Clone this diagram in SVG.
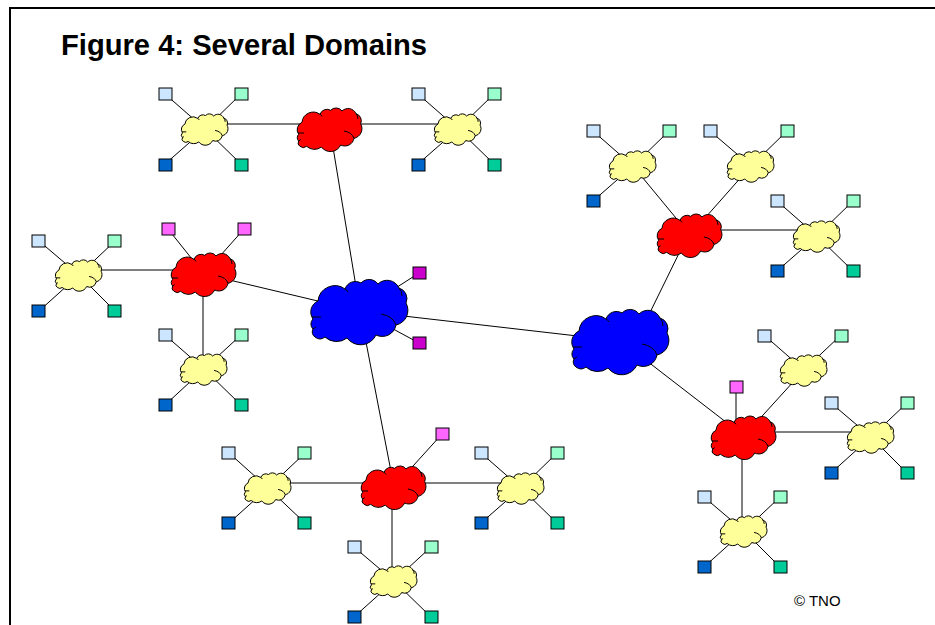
<svg xmlns="http://www.w3.org/2000/svg" width="935" height="625" viewBox="0 0 935 625">
<style>
.link{stroke:#000;stroke-width:1;fill:none}
.sq{stroke:#000;stroke-width:1}
.lb{fill:#cce6ff}.lg{fill:#99ffcc}.db{fill:#0066cc}.tl{fill:#00cc99}.pk{fill:#ff66ff}.mg{fill:#cc00cc}
.cy{fill:#ffff99}.cr{fill:#ff0000}.cb{fill:#0000ff}
.cl{stroke:#000;stroke-width:1;vector-effect:non-scaling-stroke}
.in{fill:none;stroke:#000;stroke-width:1;vector-effect:non-scaling-stroke}
text{font-family:"Liberation Sans",Arial,sans-serif;fill:#000}
</style>
<defs>
<g id="cloud">
<path class="cl" d="M-42,-10 A17,17 0 0 1 -15,-22 A11,11 0 0 1 1,-28 A11,11 0 0 1 18,-27 A13,13 0 0 1 39,-23 A11,11 0 0 1 46,-8 A15,15 0 0 1 36,14 A14,14 0 0 1 16,24 A17,17 0 0 1 -13,27 A17,17 0 0 1 -35,26 A8,8 0 0 1 -45,26 A6,6 0 0 1 -47,18 A7,7 0 0 1 -47,8 A12,12 0 0 1 -42,-10 Z"/>
<path class="in" d="M21,3 Q33,5 36,14 M-48,6 L-39,6 M39,-23 Q42,-20 42,-15 M-15,-22 Q-13,-21 -12,-19 M-47,18 L-44,16"/>
</g>
</defs>
<rect x="10" y="8" width="940" height="640" fill="#fff" stroke="#000" stroke-width="2"/>
<text x="61" y="55" font-size="29.15" font-weight="bold">Figure 4: Several Domains</text>
<text x="794" y="606" font-size="15">© TNO</text>
<g id="connectors" class="link">
<path d="M205,129L165,94M205,129L241,94M205,129L165,164M205,129L241,164M205,124H330M330,124H458M458,129L418,94M458,129L494,94M458,129L418,164M458,129L494,164M330,129L360,311"/>
<path d="M633,166L593,131M633,166L669,131M633,166L593,201M633,166L690,235M751,166L710,131M751,166L787,131M751,166L690,235M817,236L777,201M817,236L853,201M817,236L777,271M817,236L853,271M817,230H690M688,235L636,341"/>
<path d="M79,275L39,241M79,275L115,241M79,275L39,311M79,275L115,311M79,270H204M204,274L168,229M204,274L244,229M203,274V369M204,274L360,311M204,369L165,335M204,369L241,335M204,369L165,405M204,369L241,405"/>
<path d="M360,311L419,273M360,311L419,343M360,311L621,341M360,311L394,487"/>
<path d="M394,487L442,434M268,483H521M392,487V581M268,488L229,453M268,488L305,453M268,488L229,523M268,488L305,523M521,488L481,453M521,488L557,453M521,488L481,523M521,488L557,523M394,581L354,547M394,581L431,547M394,581L354,617M394,581L431,617"/>
<path d="M621,341L744,436M736,387V436M744,436L804,370M744,432H871M742,436V531M804,370L764,335M804,370L841,335M871,437L831,403M871,437L907,403M871,437L831,473M871,437L907,473M744,531L704,497M744,531L780,497M744,531L704,567M744,531L780,567"/>
</g>
<g id="b1"><use href="#cloud" class="cb" transform="translate(360,311)"/></g>
<g id="b2"><use href="#cloud" class="cb" transform="translate(621,341)"/></g>
<g id="r1"><use href="#cloud" class="cr" transform="translate(330,129) scale(.667)"/></g>
<g id="r2"><use href="#cloud" class="cr" transform="translate(204,274) scale(.667)"/></g>
<g id="r3"><use href="#cloud" class="cr" transform="translate(690,235) scale(.667)"/></g>
<g id="r4"><use href="#cloud" class="cr" transform="translate(394,487) scale(.667)"/></g>
<g id="r5"><use href="#cloud" class="cr" transform="translate(744,437) scale(.667)"/></g>
<g id="ya"><use href="#cloud" class="cy" transform="translate(205,129) scale(.48)"/></g>
<g id="yb"><use href="#cloud" class="cy" transform="translate(458,129) scale(.48)"/></g>
<g id="yc"><use href="#cloud" class="cy" transform="translate(633,166) scale(.48)"/></g>
<g id="yd"><use href="#cloud" class="cy" transform="translate(751,166) scale(.48)"/></g>
<g id="ye"><use href="#cloud" class="cy" transform="translate(817,236) scale(.48)"/></g>
<g id="yf"><use href="#cloud" class="cy" transform="translate(79,275) scale(.48)"/></g>
<g id="yg"><use href="#cloud" class="cy" transform="translate(204,369) scale(.48)"/></g>
<g id="yh"><use href="#cloud" class="cy" transform="translate(268,488) scale(.48)"/></g>
<g id="yi"><use href="#cloud" class="cy" transform="translate(521,488) scale(.48)"/></g>
<g id="yj"><use href="#cloud" class="cy" transform="translate(394,581) scale(.48)"/></g>
<g id="yk"><use href="#cloud" class="cy" transform="translate(804,370) scale(.48)"/></g>
<g id="yl"><use href="#cloud" class="cy" transform="translate(871,437) scale(.48)"/></g>
<g id="ym"><use href="#cloud" class="cy" transform="translate(744,531) scale(.48)"/></g>
<g id="squares" class="sq">
<rect class="lb" x="159" y="88" width="13" height="12"/><rect class="lg" x="235" y="88" width="13" height="12"/><rect class="db" x="159" y="159" width="13" height="12"/><rect class="tl" x="235" y="159" width="13" height="12"/>
<rect class="lb" x="412" y="88" width="13" height="12"/><rect class="lg" x="488" y="88" width="13" height="12"/><rect class="db" x="412" y="159" width="13" height="12"/><rect class="tl" x="488" y="159" width="13" height="12"/>
<rect class="lb" x="587" y="125" width="13" height="12"/><rect class="lg" x="663" y="125" width="13" height="12"/><rect class="db" x="587" y="195" width="13" height="12"/>
<rect class="lb" x="704" y="125" width="13" height="12"/><rect class="lg" x="781" y="125" width="13" height="12"/>
<rect class="lb" x="771" y="195" width="13" height="12"/><rect class="lg" x="847" y="195" width="13" height="12"/><rect class="db" x="771" y="265" width="13" height="12"/><rect class="tl" x="847" y="265" width="13" height="12"/>
<rect class="lb" x="32" y="235" width="13" height="12"/><rect class="lg" x="108" y="235" width="13" height="12"/><rect class="db" x="32" y="305" width="13" height="12"/><rect class="tl" x="108" y="305" width="13" height="12"/>
<rect class="pk" x="162" y="223" width="13" height="12"/><rect class="pk" x="238" y="223" width="13" height="12"/>
<rect class="lb" x="159" y="329" width="13" height="12"/><rect class="lg" x="235" y="329" width="13" height="12"/><rect class="db" x="159" y="399" width="13" height="12"/><rect class="tl" x="235" y="399" width="13" height="12"/>
<rect class="mg" x="413" y="267" width="13" height="12"/><rect class="mg" x="413" y="337" width="13" height="12"/>
<rect class="pk" x="436" y="428" width="13" height="12"/>
<rect class="lb" x="222" y="447" width="13" height="12"/><rect class="lg" x="298" y="447" width="13" height="12"/><rect class="db" x="222" y="517" width="13" height="12"/><rect class="tl" x="298" y="517" width="13" height="12"/>
<rect class="lb" x="475" y="447" width="13" height="12"/><rect class="lg" x="551" y="447" width="13" height="12"/><rect class="db" x="475" y="517" width="13" height="12"/><rect class="tl" x="551" y="517" width="13" height="12"/>
<rect class="lb" x="348" y="541" width="13" height="12"/><rect class="lg" x="425" y="541" width="13" height="12"/><rect class="db" x="348" y="611" width="13" height="12"/><rect class="tl" x="425" y="611" width="13" height="12"/>
<rect class="pk" x="730" y="381" width="13" height="12"/>
<rect class="lb" x="758" y="330" width="13" height="12"/><rect class="lg" x="835" y="330" width="13" height="12"/>
<rect class="lb" x="825" y="397" width="13" height="12"/><rect class="lg" x="901" y="397" width="13" height="12"/><rect class="db" x="825" y="467" width="13" height="12"/><rect class="tl" x="901" y="467" width="13" height="12"/>
<rect class="lb" x="698" y="491" width="13" height="12"/><rect class="lg" x="774" y="491" width="13" height="12"/><rect class="db" x="698" y="561" width="13" height="12"/><rect class="tl" x="774" y="561" width="13" height="12"/>
</g>
</svg>
